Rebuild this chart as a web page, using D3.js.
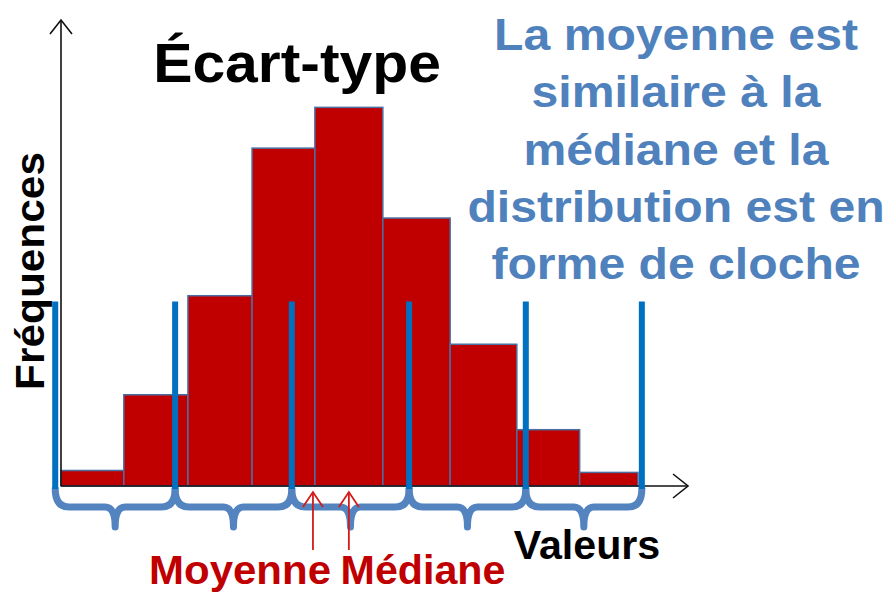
<!DOCTYPE html>
<html>
<head>
<meta charset="utf-8">
<script src="https://cdn.jsdelivr.net/npm/d3@7/dist/d3.min.js"></script>
<style>
  body { margin: 0; background: #fff; }
  text { font-family: "Liberation Sans", Arial, sans-serif; font-weight: bold; }
</style>
</head>
<body>
<script>
    // histogram data: bin edges (in value units) and frequency per bin
    const binEdges = [0, 0.98, 1.98, 2.98, 3.96, 5.02, 6.07, 7.11, 8.09, 9];
    const frequencies = [4, 23.5, 49, 87, 97.5, 69, 36.5, 14.5, 3.5];

    // standard deviation markers, mean and median (in value units)
    const sdMarks = [-0.09, 1.78, 3.6, 5.43, 7.25, 9.06];
    const sdMarkTop = 47.5;
    const meanValue = 3.93;
    const medianValue = 4.49;

    const titleText = "Écart-type";
    const noteLines = ["La moyenne est", "similaire à la", "médiane et la", "distribution est en", "forme de cloche"];
    const xLabel = "Valeurs";
    const yLabel = "Fréquences";
    const meanLabel = "Moyenne";
    const medianLabel = "Médiane";

    const width = 889;
    const height = 593;

    const svg = d3.select("body")
        .append("svg")
        .attr("width", width)
        .attr("height", height);

    const x = d3.scaleLinear().domain([0, 9]).range([61, 638]);
    const y = d3.scaleLinear().domain([0, 120]).range([486, 20]);

    // Draw bars
    svg.selectAll(".bar")
        .data(frequencies)
        .enter()
        .append("rect")
        .attr("class", "bar")
        .attr("x", (d, i) => x(binEdges[i]))
        .attr("y", d => y(d))
        .attr("width", (d, i) => x(binEdges[i + 1]) - x(binEdges[i]))
        .attr("height", d => y(0) - y(d))
        .attr("fill", "#C00000")
        .attr("stroke", "#4a6fa3")
        .attr("stroke-width", 1.5);

    // Axes with open arrowheads
    const axisColor = "#111";
    const x0 = x(0), y0 = y(0);
    const xEnd = x(9.78), yEnd = y(120);
    svg.append("line")
        .attr("x1", x0).attr("y1", y0)
        .attr("x2", xEnd).attr("y2", y0)
        .attr("stroke", axisColor).attr("stroke-width", 1.6);
    svg.append("path")
        .attr("d", `M${xEnd - 15},${y0 - 12} L${xEnd},${y0} L${xEnd - 15},${y0 + 12}`)
        .attr("fill", "none").attr("stroke", axisColor).attr("stroke-width", 1.6);
    svg.append("line")
        .attr("x1", x0).attr("y1", y0)
        .attr("x2", x0).attr("y2", yEnd)
        .attr("stroke", axisColor).attr("stroke-width", 1.6);
    svg.append("path")
        .attr("d", `M${x0 - 11},${yEnd + 14} L${x0},${yEnd} L${x0 + 11},${yEnd + 14}`)
        .attr("fill", "none").attr("stroke", axisColor).attr("stroke-width", 1.6);

    // Braces between the standard deviation markers
    const braceTop = y0 + 3, braceMid = y0 + 21, braceTip = y0 + 41;
    const intervals = d3.pairs(sdMarks);
    svg.selectAll(".brace")
        .data(intervals)
        .enter()
        .append("path")
        .attr("class", "brace")
        .attr("d", ([a, b]) => {
            const xa = x(a), xb = x(b), m = (xa + xb) / 2;
            return `M${xa},${braceTop} Q${xa},${braceMid} ${xa + 14},${braceMid}` +
                ` L${m - 10},${braceMid} Q${m},${braceMid} ${m},${braceTip}` +
                ` Q${m},${braceMid} ${m + 10},${braceMid}` +
                ` L${xb - 14},${braceMid} Q${xb},${braceMid} ${xb},${braceTop}`;
        })
        .attr("fill", "none")
        .attr("stroke", "#5384c0")
        .attr("stroke-width", 7)
        .attr("stroke-linecap", "round")
        .attr("stroke-linejoin", "round");

    // Standard deviation markers
    svg.selectAll(".sd")
        .data(sdMarks)
        .enter()
        .append("line")
        .attr("class", "sd")
        .attr("x1", d => x(d)).attr("x2", d => x(d))
        .attr("y1", y(sdMarkTop)).attr("y2", y0 + 3)
        .attr("stroke", "#0070C0")
        .attr("stroke-width", 6);

    // Mean / median arrows
    const arrowColor = "#D41A1A";
    [meanValue, medianValue].forEach(v => {
        const ax = x(v), tip = y0 + 6, bottom = y0 + 64;
        svg.append("line")
            .attr("x1", ax).attr("x2", ax)
            .attr("y1", tip).attr("y2", bottom)
            .attr("stroke", arrowColor).attr("stroke-width", 1.8);
        svg.append("path")
            .attr("d", `M${ax - 10},${tip + 15} L${ax},${tip} L${ax + 10},${tip + 15}`)
            .attr("fill", "none").attr("stroke", arrowColor).attr("stroke-width", 1.8);
    });

    // Title
    svg.append("text")
        .attr("transform", "translate(297,82) scale(1.07,1)")
        .attr("text-anchor", "middle")
        .attr("font-size", "55px")
        .attr("fill", "#000")
        .text(titleText);

    // Note on the right
    svg.append("g")
        .attr("transform", "translate(676,0) scale(1.07,1)")
        .selectAll("text")
        .data(noteLines)
        .enter()
        .append("text")
        .attr("x", 0)
        .attr("y", (d, i) => 50 + i * 57.3)
        .attr("text-anchor", "middle")
        .attr("font-size", "45px")
        .attr("fill", "#4F81BD")
        .text(d => d);

    // Axis labels
    svg.append("text")
        .attr("transform", "translate(44,271) rotate(-90) scale(1.06,1)")
        .attr("text-anchor", "middle")
        .attr("font-size", "40px")
        .attr("fill", "#000")
        .text(yLabel);

    svg.append("text")
        .attr("transform", "translate(587,559) scale(1.03,1)")
        .attr("text-anchor", "middle")
        .attr("font-size", "40px")
        .attr("fill", "#000")
        .text(xLabel);

    svg.append("text")
        .attr("transform", "translate(240,584) scale(1.05,1)")
        .attr("text-anchor", "middle")
        .attr("font-size", "40px")
        .attr("fill", "#C00000")
        .text(meanLabel);

    svg.append("text")
        .attr("transform", "translate(423,584) scale(1.03,1)")
        .attr("text-anchor", "middle")
        .attr("font-size", "40px")
        .attr("fill", "#C00000")
        .text(medianLabel);
</script>
</body>
</html>
